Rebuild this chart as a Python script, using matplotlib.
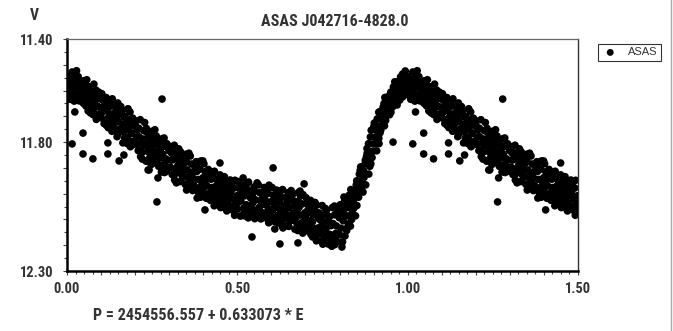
import numpy as np
import matplotlib
matplotlib.use("Agg")
from matplotlib import pyplot as plt
from matplotlib import ticker
from matplotlib import font_manager
from matplotlib.lines import Line2D

# Phase / V magnitude (phase 0..1)
phase = [
    0.002, 0.007, 0.004, 0.009, 0.015, 0.011, 0.019, 0.016,
    0.028, 0.023, 0.026, 0.021, 0.033, 0.039, 0.037, 0.032,
    0.049, 0.045, 0.042, 0.047, 0.058, 0.053, 0.056, 0.051,
    0.062, 0.067, 0.064, 0.069, 0.079, 0.075, 0.072, 0.077,
    0.085, 0.081, 0.089, 0.086, 0.093, 0.099, 0.097, 0.092,
    0.102, 0.107, 0.104, 0.109, 0.115, 0.111, 0.119, 0.116,
    0.128, 0.123, 0.126, 0.121, 0.133, 0.139, 0.137, 0.132,
    0.149, 0.145, 0.142, 0.147, 0.158, 0.153, 0.156, 0.151,
    0.162, 0.167, 0.164, 0.169, 0.179, 0.175, 0.172, 0.177,
    0.185, 0.181, 0.189, 0.186, 0.193, 0.199, 0.197, 0.192,
    0.202, 0.207, 0.204, 0.209, 0.215, 0.211, 0.219, 0.216,
    0.228, 0.223, 0.226, 0.221, 0.233, 0.239, 0.237, 0.232,
    0.249, 0.245, 0.242, 0.247, 0.258, 0.253, 0.256, 0.251,
    0.262, 0.267, 0.264, 0.269, 0.279, 0.275, 0.272, 0.277,
    0.285, 0.281, 0.289, 0.286, 0.293, 0.299, 0.297, 0.292,
    0.302, 0.307, 0.304, 0.309, 0.315, 0.311, 0.319, 0.316,
    0.328, 0.323, 0.326, 0.321, 0.333, 0.339, 0.337, 0.332,
    0.349, 0.345, 0.342, 0.347, 0.358, 0.353, 0.356, 0.351,
    0.362, 0.367, 0.364, 0.369, 0.379, 0.375, 0.372, 0.377,
    0.385, 0.381, 0.389, 0.386, 0.393, 0.399, 0.397, 0.392,
    0.402, 0.407, 0.404, 0.409, 0.415, 0.411, 0.419, 0.416,
    0.428, 0.423, 0.426, 0.421, 0.433, 0.439, 0.437, 0.432,
    0.449, 0.445, 0.442, 0.447, 0.458, 0.453, 0.456, 0.451,
    0.462, 0.467, 0.464, 0.469, 0.479, 0.475, 0.472, 0.477,
    0.485, 0.481, 0.489, 0.486, 0.493, 0.499, 0.497, 0.492,
    0.502, 0.507, 0.504, 0.509, 0.515, 0.511, 0.519, 0.516,
    0.528, 0.523, 0.526, 0.521, 0.533, 0.539, 0.537, 0.532,
    0.549, 0.545, 0.542, 0.547, 0.558, 0.553, 0.556, 0.551,
    0.562, 0.567, 0.564, 0.569, 0.579, 0.575, 0.572, 0.577,
    0.585, 0.581, 0.589, 0.586, 0.593, 0.599, 0.597, 0.592,
    0.602, 0.607, 0.604, 0.609, 0.615, 0.611, 0.619, 0.616,
    0.628, 0.623, 0.626, 0.621, 0.633, 0.639, 0.637, 0.632,
    0.649, 0.645, 0.642, 0.647, 0.658, 0.653, 0.656, 0.651,
    0.662, 0.667, 0.664, 0.669, 0.679, 0.675, 0.672, 0.677,
    0.685, 0.681, 0.689, 0.686, 0.693, 0.699, 0.697, 0.692,
    0.702, 0.707, 0.704, 0.709, 0.715, 0.711, 0.719, 0.716,
    0.728, 0.723, 0.726, 0.721, 0.733, 0.739, 0.737, 0.732,
    0.749, 0.745, 0.742, 0.747, 0.758, 0.753, 0.756, 0.751,
    0.762, 0.767, 0.764, 0.769, 0.779, 0.775, 0.772, 0.777,
    0.785, 0.781, 0.789, 0.786, 0.793, 0.799, 0.797, 0.792,
    0.802, 0.807, 0.804, 0.809, 0.815, 0.811, 0.819, 0.816,
    0.828, 0.823, 0.826, 0.821, 0.833, 0.839, 0.837, 0.832,
    0.849, 0.845, 0.842, 0.847, 0.858, 0.853, 0.856, 0.851,
    0.862, 0.867, 0.864, 0.869, 0.879, 0.875, 0.872, 0.877,
    0.885, 0.881, 0.889, 0.886, 0.893, 0.899, 0.897, 0.892,
    0.902, 0.907, 0.904, 0.909, 0.915, 0.911, 0.919, 0.916,
    0.928, 0.923, 0.926, 0.921, 0.933, 0.939, 0.937, 0.932,
    0.949, 0.945, 0.942, 0.947, 0.958, 0.953, 0.956, 0.951,
    0.962, 0.967, 0.964, 0.969, 0.979, 0.975, 0.972, 0.977,
    0.985, 0.981, 0.989, 0.986, 0.993, 0.999, 0.997, 0.992,
]
vmag = [
    11.551, 11.572, 11.618, 11.634, 11.528, 11.583, 11.596, 11.612,
    11.523, 11.567, 11.585, 11.641, 11.546, 11.592, 11.613, 11.627,
    11.562, 11.579, 11.624, 11.648, 11.558, 11.611, 11.637, 11.652,
    11.584, 11.603, 11.631, 11.687, 11.575, 11.628, 11.655, 11.694,
    11.598, 11.642, 11.661, 11.712, 11.606, 11.633, 11.689, 11.703,
    11.612, 11.661, 11.684, 11.728, 11.627, 11.649, 11.708, 11.722,
    11.641, 11.662, 11.719, 11.744, 11.632, 11.688, 11.711, 11.758,
    11.648, 11.697, 11.724, 11.779, 11.662, 11.693, 11.748, 11.766,
    11.676, 11.703, 11.758, 11.784, 11.671, 11.728, 11.752, 11.806,
    11.683, 11.741, 11.764, 11.818, 11.707, 11.738, 11.796, 11.811,
    11.718, 11.752, 11.808, 11.833, 11.713, 11.779, 11.802, 11.856,
    11.724, 11.788, 11.813, 11.866, 11.747, 11.782, 11.836, 11.874,
    11.758, 11.793, 11.842, 11.887, 11.752, 11.817, 11.858, 11.883,
    11.776, 11.812, 11.868, 11.894, 11.787, 11.826, 11.862, 11.916,
    11.784, 11.847, 11.873, 11.918, 11.806, 11.833, 11.897, 11.914,
    11.817, 11.843, 11.898, 11.926, 11.812, 11.868, 11.904, 11.947,
    11.826, 11.864, 11.917, 11.958, 11.837, 11.873, 11.928, 11.953,
    11.847, 11.882, 11.936, 11.964, 11.843, 11.908, 11.934, 11.986,
    11.854, 11.917, 11.943, 11.988, 11.876, 11.912, 11.967, 11.983,
    11.878, 11.914, 11.976, 11.996, 11.873, 11.938, 11.962, 12.014,
    11.884, 11.947, 11.973, 12.018, 11.906, 11.942, 11.996, 12.013,
    11.916, 11.944, 12.008, 12.026, 11.913, 11.968, 11.993, 12.047,
    11.927, 11.962, 12.017, 12.036, 11.938, 11.974, 12.028, 12.054,
    11.934, 11.988, 12.024, 12.067, 11.947, 11.983, 12.038, 12.056,
    11.956, 11.994, 12.047, 12.064, 11.948, 12.008, 12.036, 12.084,
    11.953, 12.006, 12.033, 12.087, 11.967, 11.998, 12.056, 12.083,
    11.962, 12.008, 12.043, 12.086, 11.955, 12.017, 12.052, 12.094,
    11.974, 12.013, 12.058, 12.083, 11.958, 12.024, 12.064, 12.097,
    11.966, 12.027, 12.054, 12.098, 11.976, 12.014, 12.073, 12.093,
    11.984, 12.022, 12.068, 12.094, 11.967, 12.031, 12.062, 12.113,
    11.976, 12.037, 12.063, 12.108, 11.986, 12.024, 12.083, 12.104,
    11.988, 12.033, 12.086, 12.114, 11.984, 12.047, 12.074, 12.126,
    11.996, 12.036, 12.094, 12.124, 11.988, 12.054, 12.083, 12.127,
    12.004, 12.046, 12.103, 12.138, 11.996, 12.064, 12.094, 12.143,
    12.008, 12.054, 12.113, 12.136, 12.004, 12.074, 12.106, 12.153,
    12.016, 12.064, 12.124, 12.146, 12.026, 12.073, 12.134, 12.158,
    12.034, 12.083, 12.137, 12.168, 12.044, 12.097, 12.133, 12.183,
    12.046, 12.104, 12.156, 12.184, 12.057, 12.112, 12.147, 12.196,
    12.064, 12.107, 12.163, 12.193, 12.054, 12.124, 12.158, 12.204,
    12.048, 12.116, 12.154, 12.198, 12.056, 12.093, 12.157, 12.186,
    12.043, 12.096, 12.134, 12.187, 12.027, 12.074, 12.136, 12.164,
    12.006, 12.054, 12.117, 12.143, 11.984, 12.046, 12.074, 12.126,
    11.966, 12.004, 12.057, 12.086, 11.924, 11.976, 12.014, 12.046,
    11.896, 11.924, 11.976, 11.994, 11.856, 11.884, 11.937, 11.966,
    11.806, 11.843, 11.894, 11.924, 11.754, 11.807, 11.836, 11.884,
    11.726, 11.753, 11.806, 11.834, 11.684, 11.737, 11.764, 11.806,
    11.664, 11.694, 11.736, 11.754, 11.627, 11.674, 11.696, 11.737,
    11.614, 11.637, 11.676, 11.694, 11.586, 11.627, 11.643, 11.684,
    11.566, 11.604, 11.624, 11.656, 11.547, 11.586, 11.604, 11.637,
    11.536, 11.574, 11.596, 11.624, 11.524, 11.566, 11.587, 11.614,
]

# more band points lying between the ones above
phase_fill = [
    0.0055, 0.0005, 0.0105, 0.0155, 0.0255, 0.0205, 0.0305, 0.0355,
    0.0455, 0.0405, 0.0505, 0.0555, 0.0655, 0.0605, 0.0705, 0.0755,
    0.0855, 0.0805, 0.0905, 0.0955, 0.1055, 0.1005, 0.1105, 0.1155,
    0.1255, 0.1205, 0.1305, 0.1355, 0.1455, 0.1405, 0.1505, 0.1555,
    0.1655, 0.1605, 0.1705, 0.1755, 0.1855, 0.1805, 0.1905, 0.1955,
    0.2055, 0.2005, 0.2105, 0.2155, 0.2255, 0.2205, 0.2305, 0.2355,
    0.2455, 0.2405, 0.2505, 0.2555, 0.2655, 0.2605, 0.2705, 0.2755,
    0.2855, 0.2805, 0.2905, 0.2955, 0.3055, 0.3005, 0.3105, 0.3155,
    0.3255, 0.3205, 0.3305, 0.3355, 0.3455, 0.3405, 0.3505, 0.3555,
    0.3655, 0.3605, 0.3705, 0.3755, 0.3855, 0.3805, 0.3905, 0.3955,
    0.4055, 0.4005, 0.4105, 0.4155, 0.4255, 0.4205, 0.4305, 0.4355,
    0.4455, 0.4405, 0.4505, 0.4555, 0.4655, 0.4605, 0.4705, 0.4755,
    0.4855, 0.4805, 0.4905, 0.4955, 0.5055, 0.5005, 0.5105, 0.5155,
    0.5255, 0.5205, 0.5305, 0.5355, 0.5455, 0.5405, 0.5505, 0.5555,
    0.5655, 0.5605, 0.5705, 0.5755, 0.5855, 0.5805, 0.5905, 0.5955,
    0.6055, 0.6005, 0.6105, 0.6155, 0.6255, 0.6205, 0.6305, 0.6355,
    0.6455, 0.6405, 0.6505, 0.6555, 0.6655, 0.6605, 0.6705, 0.6755,
    0.6855, 0.6805, 0.6905, 0.6955, 0.7055, 0.7005, 0.7105, 0.7155,
    0.7255, 0.7205, 0.7305, 0.7355, 0.7455, 0.7405, 0.7505, 0.7555,
    0.7655, 0.7605, 0.7705, 0.7755, 0.7855, 0.7805, 0.7905, 0.7955,
    0.8055, 0.8005, 0.8105, 0.8155, 0.8255, 0.8205, 0.8305, 0.8355,
    0.8455, 0.8405, 0.8505, 0.8555, 0.8655, 0.8605, 0.8705, 0.8755,
    0.8855, 0.8805, 0.8905, 0.8955, 0.9055, 0.9005, 0.9105, 0.9155,
    0.9255, 0.9205, 0.9305, 0.9355, 0.9455, 0.9405, 0.9505, 0.9555,
    0.9655, 0.9605, 0.9705, 0.9755, 0.9855, 0.9805, 0.9905, 0.9955,
]
vmag_fill = [
    11.595, 11.545, 11.555, 11.625, 11.545, 11.612, 11.570, 11.640,
    11.600, 11.566, 11.585, 11.660, 11.618, 11.660, 11.601, 11.676,
    11.620, 11.688, 11.662, 11.615, 11.637, 11.706, 11.678, 11.735,
    11.690, 11.652, 11.660, 11.735, 11.672, 11.752, 11.720, 11.680,
    11.730, 11.690, 11.700, 11.780, 11.712, 11.792, 11.767, 11.722,
    11.780, 11.735, 11.746, 11.830, 11.756, 11.840, 11.809, 11.764,
    11.818, 11.866, 11.785, 11.838, 11.840, 11.795, 11.806, 11.890,
    11.815, 11.896, 11.865, 11.820, 11.870, 11.830, 11.840, 11.926,
    11.890, 11.845, 11.855, 11.900, 11.909, 11.865, 11.875, 11.960,
    11.885, 11.966, 11.940, 11.894, 11.945, 11.896, 11.905, 11.988,
    11.915, 11.996, 11.969, 11.924, 11.976, 11.930, 11.940, 12.020,
    11.990, 11.945, 11.956, 12.001, 11.961, 12.046, 12.010, 11.965,
    12.020, 11.975, 11.978, 12.060, 11.980, 12.060, 12.027, 11.982,
    11.985, 12.065, 11.986, 12.073, 12.036, 11.993, 11.991, 12.080,
    11.996, 12.076, 12.044, 11.995, 12.045, 12.003, 11.999, 12.088,
    12.006, 12.085, 12.054, 12.005, 12.060, 12.010, 12.015, 12.100,
    12.012, 12.065, 12.025, 12.105, 12.075, 12.025, 12.030, 12.118,
    12.083, 12.031, 12.040, 12.130, 12.040, 12.094, 12.104, 12.050,
    12.058, 12.110, 12.070, 12.158, 12.130, 12.075, 12.085, 12.172,
    12.086, 12.135, 12.090, 12.180, 12.082, 12.176, 12.125, 12.075,
    12.070, 12.160, 12.105, 12.050, 12.030, 12.086, 12.015, 12.100,
    11.985, 12.030, 11.950, 11.995, 11.950, 11.910, 11.910, 11.870,
    11.868, 11.825, 11.780, 11.860, 11.780, 11.740, 11.710, 11.785,
    11.715, 11.680, 11.650, 11.716, 11.656, 11.625, 11.606, 11.664,
    11.585, 11.640, 11.566, 11.620, 11.555, 11.610, 11.545, 11.600,
]

# scattered points away from the main band
phase_out = [0.015, 0.047, 0.047, 0.076, 0.023, 0.062, 0.120, 0.120, 0.153,
             0.164, 0.167, 0.179, 0.235, 0.238, 0.279, 0.264, 0.267, 0.241,
             0.399, 0.449, 0.464, 0.405, 0.382, 0.458, 0.605, 0.517, 0.543,
             0.625, 0.678, 0.634, 0.610, 0.593, 0.696, 0.684, 0.813, 0.957,
             0.766, 0.807, 0.787]
vmag_out = [11.807, 11.765, 11.846, 11.865, 11.683, 11.679, 11.803, 11.846, 11.873,
            11.803, 11.850, 11.672, 11.873, 11.908, 11.633, 12.032, 11.939, 11.908,
            11.873, 11.881, 11.947, 12.063, 12.017, 12.052, 11.900, 11.939, 12.168,
            12.195, 12.191, 12.133, 12.137, 12.110, 11.962, 11.990, 12.013, 11.800,
            12.195, 12.207, 12.180]

ytick_labels = {11.40: "11.40", 11.80: "11.80", 12.30: "12.30"}
xtick_labels = {0.0: "0.00", 0.5: "0.50", 1.0: "1.00", 1.5: "1.50"}

ph = np.array(phase + phase_fill + phase_out)
mag = np.array(vmag + vmag_fill + vmag_out)
# phases 0..0.5 are shown a second time at 1..1.5
x = np.concatenate([ph, ph[ph < 0.5] + 1.0])
y = np.concatenate([mag, mag[ph < 0.5]])

# pick a narrow bold face if one is installed
fonts = font_manager.fontManager.ttflist
names = {f.name for f in fonts}
family, stretch = "DejaVu Sans", "normal"
for n in ["Liberation Sans Narrow", "DejaVu Sans Condensed", "Roboto Condensed",
          "Open Sans Condensed", "Noto Sans Condensed"]:
    if n in names:
        family = n
        break
else:
    for n in ["DejaVu Sans", "Noto Sans", "Open Sans", "Roboto"]:
        if any(f.name == n and str(f.stretch) in ("condensed", "semi-condensed", "extra-condensed")
               for f in fonts):
            family, stretch = n, "condensed"
            break
txt_style = dict(family=[family, "DejaVu Sans"], fontstretch=stretch, weight="bold",
                 color="#333333")

fig = plt.figure(figsize=(6.73, 3.31), dpi=100)
ax = fig.add_axes([67 / 673, 60 / 331, 511 / 673, 232 / 331])
renderer = fig.canvas.get_renderer()


def fit_width(t, width_px):
    w = t.get_window_extent(renderer).width
    t.set_fontsize(t.get_fontsize() * width_px / w)


ax.scatter(x, y, s=30, c="black", edgecolors="none", label="ASAS", zorder=3)

ax.set_xlim(0, 1.5)
ax.set_ylim(12.30, 11.40)

ax.xaxis.set_major_locator(ticker.MultipleLocator(0.1))
ax.xaxis.set_minor_locator(ticker.MultipleLocator(0.025))
ax.yaxis.set_major_locator(ticker.MultipleLocator(0.1))
ax.yaxis.set_minor_locator(ticker.MultipleLocator(0.05))
ax.xaxis.set_major_formatter(ticker.FuncFormatter(
    lambda v, p: next((t for k, t in xtick_labels.items() if abs(k - v) < 1e-6), "")))
ax.yaxis.set_major_formatter(ticker.FuncFormatter(
    lambda v, p: next((t for k, t in ytick_labels.items() if abs(k - v) < 1e-6), "")))

# tick label size chosen so "11.40" is a little over 31 px wide
probe = fig.text(0, 0, "11.40", fontsize=10, **txt_style)
fit_width(probe, 34)
tick_size = probe.get_fontsize()
probe.remove()

ax.tick_params(axis="both", which="major", direction="out", length=2.8, width=0.8,
               color="#444444", labelsize=tick_size, labelcolor="#333333")
ax.tick_params(axis="both", which="minor", direction="out", length=2.0, width=0.8,
               color="#444444")
ax.tick_params(axis="x", which="major", pad=5.0)
ax.tick_params(axis="y", which="major", pad=7.0)
for lab in ax.get_xticklabels() + ax.get_yticklabels():
    lab.set_fontfamily(txt_style["family"])
    lab.set_fontstretch(stretch)
    lab.set_fontweight("bold")

ax.spines["left"].set_linewidth(1.8)
ax.spines["bottom"].set_linewidth(1.8)
ax.spines["top"].set_linewidth(0.9)
ax.spines["top"].set_color("#666666")
ax.spines["right"].set_linewidth(1.0)
ax.spines["right"].set_color("#333333")

title = fig.text(334.5 / 673, 1 - 22 / 331, "ASAS J042716-4828.0", ha="center", va="center",
                 fontsize=10, **txt_style)
fit_width(title, 148)
vlab = fig.text(34 / 673, 1 - 15 / 331, "V", ha="center", va="center", fontsize=10, **txt_style)
fit_width(vlab, 9)
formula = fig.text(93 / 673, 1 - 316 / 331, "P = 2454556.557 + 0.633073 * E", ha="left",
                   va="center", fontsize=10, **txt_style)
fit_width(formula, 212)

leg = fig.legend(loc="upper left", bbox_to_anchor=(598 / 673, 1 - 44 / 331), borderaxespad=0,
                 frameon=True, fancybox=False, edgecolor="black", handletextpad=0.8,
                 borderpad=0.3, handlelength=1.6, markerscale=0.9,
                 prop={"family": "Liberation Sans", "size": 8})
leg.get_frame().set_linewidth(0.8)
for t in leg.get_texts():
    t.set_color("#333333")

fig.add_artist(Line2D([670.5 / 673, 670.5 / 673], [0, 1], color="#aaaaaa", lw=1.0))

fig.savefig("out.png", dpi=100)
